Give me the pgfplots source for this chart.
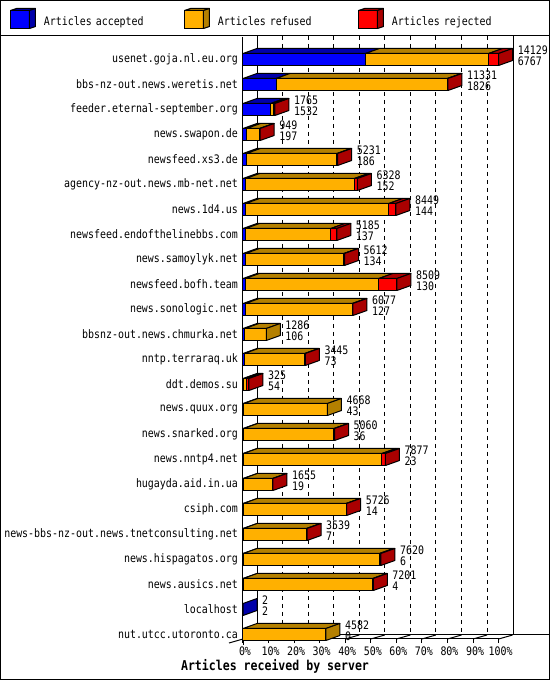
\documentclass[border=0pt]{standalone}
\usepackage{pgfplots}
\pgfplotsset{compat=1.18}
\usepackage{pgfplotstable}
\usepackage{fontspec}
\setmainfont{DejaVu Sans Mono}[FakeStretch=0.85]

\definecolor{accfront}{RGB}{0,0,255}
\definecolor{accdark}{RGB}{0,0,170}
\definecolor{reffront}{RGB}{255,176,0}
\definecolor{refdark}{RGB}{180,128,0}
\definecolor{rejfront}{RGB}{255,0,0}
\definecolor{rejdark}{RGB}{170,0,0}

\newcommand\labfont{\fontsize{11.7}{11}\selectfont}
\pgfdeclareplotmark{nothing}{}

% counts per server: total offered, accepted, refused, rejected
\pgfplotstableread{
name tot acc ref rej
usenet.goja.nl.eu.org 14129 6767 6811 551
bbs-nz-out.news.weretis.net 11331 1826 9470 35
feeder.eternal-september.org 1765 1532 170 63
news.swapon.de 949 197 720 32
newsfeed.xs3.de 5231 186 5010 35
agency-nz-out.news.mb-net.net 6328 152 6006 170
news.1d4.us 8449 144 7915 390
newsfeed.endofthelinebbs.com 5185 137 4718 330
news.samoylyk.net 5612 134 5440 38
newsfeed.bofh.team 8509 130 7379 1000
news.sonologic.net 6077 127 5910 40
bbsnz-out.news.chmurka.net 1286 106 1180 0
nntp.terraraq.uk 3445 73 3340 32
ddt.demos.su 325 54 130 141
news.quux.org 4668 43 4625 0
news.snarked.org 5060 36 4994 30
news.nntp4.net 7877 23 7654 200
hugayda.aid.in.ua 1655 19 1616 20
csiph.com 5726 14 5682 30
news-bbs-nz-out.news.tnetconsulting.net 3539 7 3502 30
news.hispagatos.org 7620 6 7534 80
news.ausics.net 7201 4 7167 30
localhost 2 2 0 0
nut.utcc.utoronto.ca 4582 0 4582 0
}\data

% top face of one segment, drawn at the segment's right end (\seglen in pt)
\newcommand\topface[1]{%
  \ifdim\seglen pt>0.05pt
    \filldraw[fill=#1,draw=black,line width=1pt,line join=round]
      (-\seglen pt,6pt) -- (0pt,6pt) -- (14pt,11pt) -- ({14pt-\seglen pt},11pt) -- cycle;
  \fi}
% side face at the end of the bar, coloured as its last non-empty segment
\newcommand\sideface{%
  \ifdim\vrej pt>0pt \def\sidecol{rejdark}\else
    \ifdim\vref pt>0pt \def\sidecol{refdark}\else\def\sidecol{accdark}\fi\fi
  \filldraw[fill=\sidecol,draw=black,line width=1pt,line join=round]
    (0pt,-6pt) -- (14pt,-1pt) -- (14pt,11pt) -- (0pt,6pt) -- cycle;}
\newcommand\cube[2]{%
  \filldraw[fill=#1,draw=black,line width=1pt] (0pt,-9pt) rectangle (19pt,9pt);
  \filldraw[fill=#2,draw=black,line width=1pt,line join=round]
    (0pt,9pt) -- (19pt,9pt) -- (25pt,11pt) -- (6pt,11pt) -- cycle;
  \filldraw[fill=#2,draw=black,line width=1pt,line join=round]
    (19pt,-9pt) -- (25pt,-7pt) -- (25pt,11pt) -- (19pt,9pt) -- cycle;}

\pgfplotsset{
  front/.style={xbar, bar width=12pt, bar shift=0pt, draw=black, line width=1pt, forget plot},
  face/.style={scatter, only marks, mark=nothing, forget plot,
    scatter/@post marker code/.code={}},
  vlabel/.style={only marks, mark=nothing, forget plot,
    point meta=explicit symbolic, nodes near coords,
    every node near coord/.append style={anchor=west, inner sep=0pt,
      xshift=19pt, yshift=#1, font=\labfont}},
}

\begin{document}
\begin{tikzpicture}
\useasboundingbox (0,0) rectangle (550pt,680pt);
\begin{scope}[shift={(0pt,680pt)}, x=1pt, y=-1pt, line width=1pt]
  \draw (0.5,0.5) rectangle (549.5,679.5);
  \draw (0,35.5) -- (550,35.5);
  \foreach \k in {1,...,9}
    \draw[dash pattern=on 4pt off 4pt] ({257+25.56*\k},36) -- ({257+25.56*\k},635);
  \draw (257,36) -- (257,635);
  \draw (513,36) -- (513,635);
  \draw (257,635) -- (549,635);
  \draw (243,639) -- (229,643);
  \draw (243,639) -- (243,645);
  \foreach \k in {1,...,10}
    \draw ({243+25.56*\k},639) -- ({257+25.56*\k},635);
\end{scope}
\begin{axis}[
  at={(243pt,41pt)}, anchor=south west,
  x=2.556pt, y=25pt,
  xmin=0, xmax=100, ymin=-23.18, ymax=0.9,
  clip=false,
  axis x line*=bottom, axis y line*=left,
  axis line style={line width=1pt},
  tick align=outside, major tick length=4pt,
  xtick={0,10,...,100},
  xticklabels={0\%,10\%,20\%,30\%,40\%,50\%,60\%,70\%,80\%,90\%,100\%},
  xtick style={draw=black, line width=1pt},
  xticklabel style={anchor=north, inner sep=0pt, xshift=2pt, yshift=-4pt, font=\labfont},
  ytick={-23,...,0},
  yticklabels={nut.utcc.utoronto.ca, localhost, news.ausics.net, news.hispagatos.org,
    news-bbs-nz-out.news.tnetconsulting.net, csiph.com, hugayda.aid.in.ua, news.nntp4.net,
    news.snarked.org, news.quux.org, ddt.demos.su, nntp.terraraq.uk, bbsnz-out.news.chmurka.net,
    news.sonologic.net, newsfeed.bofh.team, news.samoylyk.net, newsfeed.endofthelinebbs.com,
    news.1d4.us, agency-nz-out.news.mb-net.net, newsfeed.xs3.de, news.swapon.de,
    feeder.eternal-september.org, bbs-nz-out.news.weretis.net, usenet.goja.nl.eu.org},
  ytick style={draw=none},
  yticklabel style={anchor=east, inner sep=0pt, xshift=-1pt, font=\labfont},
  xlabel={Articles received by server},
  xlabel style={at={(axis description cs:0.1252,-0.04485)}, anchor=center,
    font=\bfseries\fontsize{13.6}{14}\selectfont},
  legend columns=3,
  legend cell align=left,
  legend style={draw=none, fill=none, inner sep=0pt, outer sep=0pt,
    at={(axis description cs:-0.91158,1.04817)}, anchor=north west,
    font=\labfont,
    nodes={inner sep=0pt, text width=140pt, align=left, yshift=-2pt},
    /tikz/every odd column/.append style={column sep=8pt}},
]
% front faces
\addplot[front, fill=rejfront] table[x expr=\thisrow{tot}/141.29, y expr=-\coordindex]{\data};
\addplot[front, fill=reffront] table[x expr={(\thisrow{acc}+\thisrow{ref})/141.29}, y expr=-\coordindex]{\data};
\addplot[front, fill=accfront] table[x expr=\thisrow{acc}/141.29, y expr=-\coordindex]{\data};
% top faces
\addplot[face, visualization depends on={\thisrow{acc}/141.29*2.556 \as \seglen},
  scatter/@pre marker code/.code={\topface{accdark}}]
  table[x expr=\thisrow{acc}/141.29, y expr=-\coordindex]{\data};
\addplot[face, visualization depends on={\thisrow{ref}/141.29*2.556 \as \seglen},
  scatter/@pre marker code/.code={\topface{refdark}}]
  table[x expr={(\thisrow{acc}+\thisrow{ref})/141.29}, y expr=-\coordindex]{\data};
\addplot[face, visualization depends on={\thisrow{rej}/141.29*2.556 \as \seglen},
  scatter/@pre marker code/.code={\topface{rejdark}}]
  table[x expr=\thisrow{tot}/141.29, y expr=-\coordindex]{\data};
% side faces
\addplot[face, visualization depends on={\thisrow{rej} \as \vrej},
  visualization depends on={\thisrow{ref} \as \vref},
  scatter/@pre marker code/.code={\sideface}]
  table[x expr=\thisrow{tot}/141.29, y expr=-\coordindex]{\data};
% value labels: total offered (upper line) and accepted (lower line)
\addplot[vlabel=9pt] table[x expr=\thisrow{tot}/141.29, y expr=-\coordindex, meta=tot]{\data};
\addplot[vlabel=-2pt] table[x expr=\thisrow{tot}/141.29, y expr=-\coordindex, meta=acc]{\data};
\addlegendimage{legend image code/.code={\cube{accfront}{accdark}}}
\addlegendentry{Articles accepted}
\addlegendimage{legend image code/.code={\cube{reffront}{refdark}}}
\addlegendentry{Articles refused}
\addlegendimage{legend image code/.code={\cube{rejfront}{rejdark}}}
\addlegendentry{Articles rejected}
\end{axis}
\end{tikzpicture}
\end{document}
